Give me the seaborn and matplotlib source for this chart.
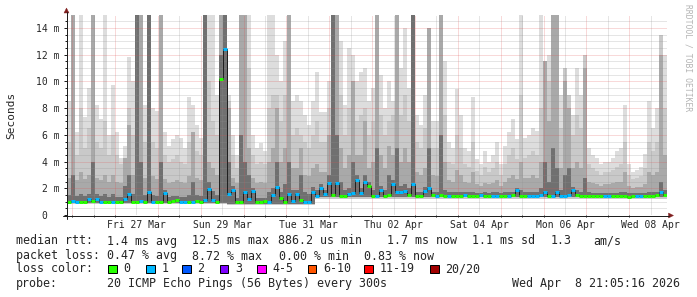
import numpy as np
import pandas as pd
import matplotlib
matplotlib.use("Agg")
import matplotlib.pyplot as plt
import matplotlib.dates as mdates
from matplotlib.lines import Line2D
from matplotlib.patches import Polygon, Rectangle
import seaborn as sns

# ------------------------------------------------------------------ data
t_start = "2026-03-25 21:05"
t_end = "2026-04-08 21:05"

# smoke levels per time step (ms)
ping_max = [8.5, 15, 6.2, 15, 7.3, 9.5, 15, 8.2, 7.2, 15,
            6.0, 9.7, 6.2, 4.3, 5.2, 11.8, 10.0, 15, 15, 8.2,
            15, 8.0, 7.8, 15, 6.2, 5.2, 5.7, 6.0, 5.8, 5.0,
            8.8, 8.2, 6.7, 5.8, 15, 15, 15, 9.0, 15, 15,
            9.0, 6.0, 4.5, 15, 15, 15, 6.0, 5.0, 5.4, 4.8,
            15, 15, 12, 10, 13, 15, 8.5, 9.0, 8.5, 7.5,
            6.7, 8.5, 10.7, 7.7, 7.7, 10, 15, 15, 13, 8.2,
            12.5, 12, 10, 10.7, 11, 8.5, 9.5, 15, 10.5, 8,
            10, 8.5, 15, 11, 14, 9.5, 15, 7.5, 6.7, 9,
            14, 7, 7, 15, 11.5, 5.5, 5, 9.4, 7.5, 5,
            4.8, 8.8, 4.2, 3.8, 4.8, 4.0, 4.5, 5.5, 3.8, 5.2,
            6.2, 7.2, 5.7, 15, 5.8, 6.0, 6.5, 6.3, 15, 11.5,
            12, 15, 15, 9, 11, 6.5, 7.5, 11, 9, 12,
            5, 4.5, 4.3, 3.8, 4.0, 4.0, 4.3, 4.8, 5, 8.2,
            3.8, 3.2, 3.4, 3.6, 4.6, 8.5, 6.5, 8, 13.5, 12]

ping_upper = [5.5, 15, 4.5, 8, 5, 6.5, 15, 5.5, 5, 7,
              4.5, 6, 4.5, 3.8, 4.3, 8, 6, 15, 15, 5.5,
              15, 5.5, 5, 15, 4.5, 4, 4.2, 4.5, 4, 3.8,
              5.5, 6.2, 4.8, 4.5, 15, 10, 7, 6, 15, 15,
              8.5, 4.5, 3.5, 15, 15, 11, 4.5, 3.8, 4, 3.8,
              8, 9, 9, 7, 9, 15, 6, 6.5, 6, 5.5,
              5, 6, 7, 5.5, 5.5, 8, 15, 15, 9, 6,
              8, 10, 7, 7.5, 8, 6, 7, 15, 7.5, 6,
              7, 7.5, 15, 7.5, 9, 7, 15, 5.5, 5, 6.5,
              14, 5, 5, 15, 7.5, 4, 3.8, 6, 5, 3.8,
              3.6, 5.5, 3.3, 3, 3.6, 3.2, 3.5, 4, 3, 3.8,
              4.5, 5, 4.2, 9, 4.3, 4.5, 4.8, 4.5, 8, 11.5,
              10, 15, 15, 6.5, 11, 9, 6, 7.5, 6.5, 12,
              3.8, 3.5, 3.3, 3, 3.2, 3.2, 3.4, 3.6, 3.8, 5.5,
              3, 2.7, 2.8, 2.9, 3.5, 5.5, 4.8, 5.5, 13.5, 8]

ping_mid = [2.8, 15, 2.6, 3.2, 2.7, 3.0, 15, 2.8, 2.6, 3.0,
            2.5, 3.0, 2.5, 2.4, 4.3, 6.7, 3.0, 15, 15, 2.8,
            15, 2.9, 2.7, 15, 2.7, 2.4, 2.5, 2.6, 2.5, 2.4,
            2.9, 6.2, 2.8, 2.6, 15, 4, 3.5, 3.0, 15, 15,
            8, 2.8, 2.4, 15, 15, 5, 2.8, 2.4, 2.5, 2.4,
            4, 5, 8, 4, 5, 15, 3.5, 3.5, 5, 3.0,
            2.9, 3.5, 3.8, 3.2, 3.2, 6, 15, 15, 5, 3.5,
            4.5, 10, 4.5, 4.5, 7, 3.5, 4, 15, 4.5, 3.5,
            5.2, 4.5, 15, 4, 5, 4, 15, 3.2, 3.0, 3.5,
            14, 3.0, 2.9, 15, 4, 2.6, 2.5, 3.4, 3.0, 2.5,
            2.4, 3.2, 2.3, 2.2, 2.4, 2.3, 2.4, 2.6, 2.2, 2.5,
            2.8, 3.0, 2.7, 4, 2.8, 2.8, 3.0, 2.8, 4, 11.5,
            7, 15, 15, 3.5, 10, 8, 3.5, 4, 3.5, 11,
            2.5, 2.4, 2.3, 2.2, 2.3, 2.3, 2.4, 2.5, 2.5, 3.2,
            2.2, 2.0, 2.1, 2.1, 2.3, 3.2, 3.0, 3.2, 12, 4.5]

ping_low = [1.5, 3, 1.4, 1.6, 1.4, 1.6, 4, 1.6, 1.4, 1.6,
            1.35, 1.6, 1.35, 1.35, 2.2, 3, 1.6, 15, 4, 1.5,
            15, 1.5, 1.4, 4, 1.9, 1.35, 1.4, 1.45, 1.35, 1.35,
            1.5, 2.5, 1.5, 1.45, 15, 2.5, 1.8, 1.5, 12, 15,
            4, 2.2, 1.3, 6, 4, 3, 2, 1.25, 1.25, 1.3,
            1.7, 2, 4, 1.7, 2.3, 4, 1.9, 1.9, 3, 1.7,
            1.6, 2.1, 1.9, 2.3, 1.9, 3, 15, 6, 2.5, 1.9,
            2, 4, 3, 2, 3, 2.5, 1.9, 5, 2.2, 1.9,
            3, 2.6, 5, 2.2, 2.3, 2, 15, 1.75, 1.7, 2.1,
            5, 1.75, 1.7, 6, 1.9, 1.7, 1.7, 1.75, 1.75, 1.7,
            1.7, 1.75, 1.65, 1.65, 1.7, 1.65, 1.7, 1.7, 1.65, 1.7,
            1.7, 1.75, 2, 1.9, 1.7, 1.7, 1.75, 1.7, 2, 4,
            2.5, 5, 3.5, 1.9, 3, 3.5, 2.1, 1.9, 1.75, 2.8,
            1.7, 1.65, 1.65, 1.65, 1.65, 1.65, 1.65, 1.65, 1.7, 1.75,
            1.65, 1.65, 1.65, 1.65, 1.65, 1.75, 1.7, 1.75, 2.5, 1.9]

ping_min = [0.8] * 40 + [0.72] * 22 + [1.22] * 88
ping_lowq = [0.9] * 40 + [0.82] * 22 + [1.32] * 88

median = [1.0, 1.05, 0.95, 1.0, 1.0, 1.2, 1.05, 1.2, 1.0, 1.0,
          0.95, 1.0, 1.0, 0.95, 1.2, 1.55, 1.0, 1.0, 1.05, 1.0,
          1.75, 1.0, 0.95, 1.0, 1.67, 1.0, 1.05, 1.1, 1.0, 0.95,
          1.0, 1.0, 1.05, 1.0, 1.1, 1.95, 1.1, 1.0, 10.15, 12.4,
          1.6, 1.9, 1.0, 1.0, 1.75, 1.2, 1.8, 0.95, 0.95, 1.05,
          1.0, 1.5, 2.1, 1.25, 1.0, 1.6, 1.05, 1.55, 1.1, 1.0,
          1.0, 1.75, 1.4, 2.0, 1.55, 2.37, 1.5, 2.37, 1.4, 1.4,
          1.6, 1.65, 2.6, 1.65, 2.5, 2.2, 1.45, 1.45, 1.87, 1.45,
          1.5, 2.3, 1.7, 1.75, 1.8, 1.5, 2.3, 1.4, 1.4, 1.8,
          2.0, 1.5, 1.45, 1.5, 1.45, 1.45, 1.4, 1.45, 1.45, 1.5,
          1.45, 1.45, 1.45, 1.5, 1.45, 1.45, 1.4, 1.45, 1.45, 1.45,
          1.4, 1.5, 1.85, 1.45, 1.45, 1.4, 1.45, 1.45, 1.5, 1.7,
          1.45, 1.45, 1.7, 1.45, 1.45, 1.5, 1.85, 1.5, 1.4, 1.4,
          1.4, 1.45, 1.4, 1.4, 1.45, 1.45, 1.4, 1.4, 1.45, 1.4,
          1.35, 1.4, 1.4, 1.45, 1.4, 1.45, 1.45, 1.5, 1.75, 1.5]

loss = [0, 1, 1, 0, 0, 1, 0, 1, 1, 0,
        0, 1, 0, 0, 1, 1, 0, 0, 1, 0,
        1, 1, 0, 0, 1, 0, 0, 0, 1, 1,
        0, 1, 0, 0, 1, 1, 1, 0, 0, 1,
        1, 1, 0, 0, 1, 1, 1, 0, 0, 0,
        1, 1, 1, 0, 0, 1, 1, 1, 0, 1,
        1, 1, 1, 1, 1, 1, 0, 1, 0, 0,
        1, 1, 1, 1, 1, 0, 0, 1, 1, 0,
        0, 1, 1, 1, 1, 0, 1, 0, 0, 1,
        1, 0, 1, 0, 0, 1, 0, 0, 0, 1,
        0, 0, 0, 1, 0, 0, 1, 1, 0, 0,
        1, 0, 1, 0, 0, 1, 1, 1, 1, 1,
        0, 1, 1, 1, 1, 1, 1, 0, 0, 0,
        0, 0, 0, 0, 1, 1, 0, 0, 0, 0,
        0, 0, 1, 1, 0, 0, 0, 0, 1, 0]

loss_labels = ["0", "1", "2", "3", "4-5", "6-10", "11-19", "20/20"]
loss_colors = ["#26ff00", "#00b8ff", "#0059ff", "#7e00ff",
               "#ff00ff", "#ff5500", "#ff0000", "#a10000"]

y_ticks = [0, 2, 4, 6, 8, 10, 12, 14]
y_tick_labels = ["0  ", "2 m", "4 m", "6 m", "8 m", "10 m", "12 m", "14 m"]
x_label_days = ["2026-03-27", "2026-03-29", "2026-03-31", "2026-04-02",
                "2026-04-04", "2026-04-06", "2026-04-08"]

rtt_stats = ["1.4 ms avg", "12.5 ms max", "886.2 us min", "1.7 ms now",
             "1.1 ms sd", "1.3", "am/s"]
loss_stats = ["0.47 % avg", "8.72 % max", "0.00 % min", "0.83 % now"]
probe_text = "20 ICMP Echo Pings (56 Bytes) every 300s"
stamp_text = "Wed Apr  8 21:05:16 2026"

# ------------------------------------------------------------------ style
sns.set_style("white")
plt.rcParams["font.family"] = ["DejaVu Sans Mono"]

W, H = 697, 297
PX = 72 / 100.0  # points per pixel


def fx(x):
    return x / W


def fy(y):
    return 1 - y / H


fig = plt.figure(figsize=(W / 100, H / 100), dpi=100, facecolor="white")
ax = fig.add_axes([fx(67), fy(215), 600 / W, 200.4 / H])
ax.set_facecolor("white")

n = len(median)
edges = mdates.date2num(pd.date_range(t_start, t_end, periods=n + 1))


def ext(a):
    a = np.asarray(a, dtype=float)
    return np.append(a, a[-1])


bands = [(ping_max, ping_min, "#dddddd"),
         (ping_upper, ping_min, "#c9c9c9"),
         (ping_mid, ping_lowq, "#a9a9a9"),
         (ping_low, ping_lowq, "#707070")]
for top, bot, col in bands:
    ax.fill_between(edges, ext(bot), ext(top), step="post", color=col,
                    lw=0, zorder=1, antialiased=False)

# grid (dotted, light)
mgrid = (0.87, 0.31, 0.31, 0.42)
mingrid = (0.56, 0.56, 0.56, 0.45)
dots = (0, (1, 1))
midnights = mdates.date2num(pd.date_range("2026-03-26", "2026-04-08", freq="D"))
noons = mdates.date2num(pd.date_range("2026-03-26 12:00", "2026-04-08 12:00", freq="D"))
for d in noons:
    ax.axvline(d, color=mingrid, lw=PX, ls=dots, zorder=3)
for d in midnights:
    ax.axvline(d, color=mgrid, lw=PX, ls=dots, zorder=3)
for v in np.arange(0.5, 15, 0.5):
    ax.axhline(v, color=mgrid if v % 2 == 0 else mingrid, lw=PX, ls=dots, zorder=3)

# median line + loss coloured segments
dfm = pd.DataFrame({"t": edges, "median": ext(median)})
sns.lineplot(data=dfm, x="t", y="median", drawstyle="steps-post", color="#202020",
             lw=PX, ax=ax, zorder=4, estimator=None, sort=False)
ax.hlines(median, edges[:-1], edges[1:], colors=[loss_colors[k] for k in loss],
          lw=3 * PX, zorder=5)

ax.set_xlim(edges[0], edges[-1])
ax.set_ylim(0, 15)
ax.set_xlabel("")
ax.set_ylabel("")
for s in ax.spines.values():
    s.set_visible(False)

label_pos = [mdates.date2num(pd.Timestamp(d) + pd.Timedelta(hours=12)) for d in x_label_days]
ax.set_xticks(label_pos)
ax.set_xticklabels([pd.Timestamp(d).strftime("%a %d %b") for d in x_label_days])
ax.set_xticks(np.sort(np.concatenate([midnights, noons])), minor=True)
ax.tick_params(axis="x", which="major", length=0, pad=3.5, labelsize=7.06)
ax.tick_params(axis="x", which="minor", length=2 * PX, width=PX, color="#1f1f1f",
               direction="out")
ax.set_yticks(y_ticks)
ax.set_yticklabels(y_tick_labels)
ax.set_yticks(np.arange(0.5, 15, 0.5), minor=True)
ax.tick_params(axis="y", which="major", length=3 * PX, width=PX, pad=4 * PX,
               labelsize=7.06, color="#1f1f1f", direction="out")
ax.tick_params(axis="y", which="minor", length=2 * PX, width=PX, color="#1f1f1f",
               direction="out")
ax.tick_params(axis="both", which="both", left=True, bottom=True)

# axes lines and arrows
axis_col = "#1f1f1f"
arrow_col = "#801f1f"
fig.add_artist(Line2D([fx(66.5), fx(66.5)], [fy(219), fy(12)], color=axis_col, lw=PX))
fig.add_artist(Line2D([fx(63), fx(669)], [fy(215.5), fy(215.5)], color=axis_col, lw=PX))
fig.add_artist(Polygon([[fx(64), fy(13)], [fx(69), fy(13)], [fx(66.5), fy(8)]],
                       closed=True, facecolor=arrow_col, edgecolor=arrow_col,
                       lw=0.3, transform=fig.transFigure))
fig.add_artist(Polygon([[fx(668.5), fy(213)], [fx(668.5), fy(218)], [fx(673.5), fy(215.5)]],
                       closed=True, facecolor=arrow_col, edgecolor=arrow_col,
                       lw=0.3, transform=fig.transFigure))

# texts
fig.text(fx(11), fy(115), "Seconds", rotation=90, ha="center", va="center", fontsize=8)
fig.text(fx(688), fy(4), "RRDTOOL / TOBI OETIKER", rotation=270, ha="center",
         va="top", fontsize=5.8, color="#b4b4b4")

fs = 8.35
row1_x = [107, 192, 278, 387, 472, 551, 593]
fig.text(fx(16), fy(241), "median rtt:", ha="left", va="center", fontsize=fs)
for x, s in zip(row1_x, rtt_stats):
    fig.text(fx(x), fy(241), s, ha="left", va="center", fontsize=fs)

row2_x = [107, 192, 279, 364]
fig.text(fx(16), fy(256), "packet loss:", ha="left", va="center", fontsize=fs)
for x, s in zip(row2_x, loss_stats):
    fig.text(fx(x), fy(256), s, ha="left", va="center", fontsize=fs)

fig.text(fx(16), fy(269), "loss color:", ha="left", va="center", fontsize=fs)
sq_x = [108, 146, 182, 220, 257, 307.5, 364, 430]
for x, c, s in zip(sq_x, loss_colors, loss_labels):
    fig.add_artist(Rectangle((fx(x), fy(273)), 8.5 / W, 8.5 / H, facecolor=c,
                             edgecolor="black", lw=PX, transform=fig.transFigure))
    fig.text(fx(x + 15.5), fy(269), s, ha="left", va="center", fontsize=fs)

fig.text(fx(16), fy(284), "probe:", ha="left", va="center", fontsize=fs)
fig.text(fx(107), fy(284), probe_text, ha="left", va="center", fontsize=fs)
fig.text(fx(680), fy(284), stamp_text, ha="right", va="center", fontsize=fs)

fig.savefig("out.png", dpi=100, facecolor="white")
